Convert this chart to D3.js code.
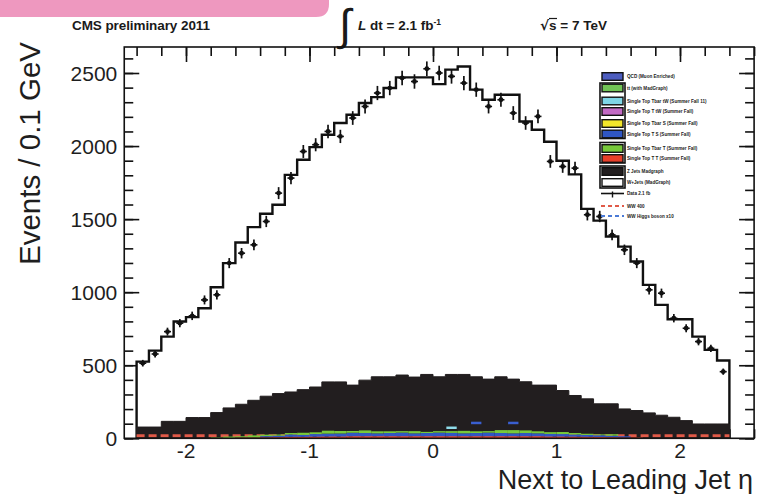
<!DOCTYPE html>
<html><head><meta charset="utf-8">
<script src="https://cdn.jsdelivr.net/npm/d3@7"></script>
<style>
body{margin:0;background:#fff}
svg{display:block}
text{font-family:"Liberation Sans",Arial,Helvetica,sans-serif}
</style>
</head><body>
<svg id="c" width="759" height="494"></svg>
<script>
// ---------- data ----------
const binLow = [-2.4,-2.3,-2.2,-2.1,-2.0,-1.9,-1.8,-1.7,-1.6,-1.5,-1.4,-1.3,-1.2,-1.1,-1.0,-0.9,-0.8,-0.7,-0.6,-0.5,-0.4,-0.3,-0.2,-0.1,
                0.0,0.1,0.2,0.3,0.4,0.5,0.6,0.7,0.8,0.9,1.0,1.1,1.2,1.3,1.4,1.5,1.6,1.7,1.8,1.9,2.0,2.1,2.2,2.3];
const binWidth = 0.1;
// total MC (W+jets on top of stack) - white histogram
const mcTotal = [525,600,696,799,829,890,1034,1199,1340,1445,1537,1598,1803,1906,1993,2077,2158,2214,2295,2335,2397,2470,2470,2470,
                 2424,2523,2545,2386,2317,2351,2351,2168,2112,2030,1900,1806,1570,1490,1381,1312,1210,1050,913,815,815,696,605,532];
// black background component
const bkgBlack = [77,77,116,116,142,142,176,208,233,260,288,306,317,333,351,386,386,364,398,421,421,433,419,437,
                  421,437,437,421,405,421,405,387,364,364,327,293,270,236,236,201,190,174,158,144,121,98,98,98];
// data
const dataVals = [514,577,730,788,838,947,982,1199,1267,1324,1484,1678,1781,1963,2009,2100,2066,2192,2271,2363,2397,2466,2442,2529,
                  2500,2477,2431,2386,2271,2317,2226,2158,2203,1895,1860,1849,1530,1518,1392,1290,1199,1016,993,822,753,662,616,456];
// small coloured components at the bottom of the stack
const stackRed   = [0,0,0,0,0,0,0,0,6,6,7,8,10,10,11,12,12,14,14,14,14,14,14,14,14,14,14,14,14,14,14,14,14,12,12,11,10,9,8,6,6,0,0,0,0,0,0,0];
const stackBlue  = [0,0,0,0,0,0,0,0,0,0,8,10,16,13,18,20,21,24,22,20,22,25,20,22,25,23,20,22,25,22,20,22,20,18,17,15,13,12,10,8,0,0,0,0,0,0,0,0];
const stackGreen = [0,0,0,0,0,0,6,12,8,14,10,8,10,15,12,20,17,12,18,14,12,10,15,8,10,12,17,12,10,20,22,18,14,12,14,10,8,6,10,0,0,0,0,0,0,0,0,0];
// dashed signal-like curves
const sigRed  = [18,18,18,18,18,18,18,18,18,18,18,18,18,18,18,18,18,18,18,18,18,18,18,18,18,18,18,18,18,18,18,18,18,18,18,18,18,18,18,18,18,18,18,18,18,18,18,18];
const sigBlueTop = [null,null,null,null,null,null,null,null,null,null,null,null,null,null,null,null,null,null,null,null,null,null,null,null,
                    null,null,null,105,null,null,105,null,null,null,null,null,null,null,null,null,null,null,null,null,null,null,null,null];
const sigCyanTop = [null,null,null,null,null,null,null,null,null,null,null,null,null,null,null,null,null,null,null,null,null,null,null,null,
                    null,72,null,null,null,null,null,null,null,null,null,null,null,null,null,null,null,null,null,null,null,null,null,null];
const xTicks = [-2,-1,0,1,2];
const yTicks = [0,500,1000,1500,2000,2500];
const legendEntries = [
  {label:"QCD (Muon Enriched)", color:"#4d5dbf", kind:"box"},
  {label:"tt (with MadGraph)", color:"#72c456", kind:"box"},
  {label:"Single Top Tbar tW (Summer Fall 11)", color:"#7fd6e6", kind:"box"},
  {label:"Single Top T tW (Summer Fall)", color:"#c26ac4", kind:"box"},
  {label:"Single Top Tbar S (Summer Fall)", color:"#f2e62a", kind:"box"},
  {label:"Single Top T S (Summer Fall)", color:"#2f56c4", kind:"box"},
  {label:"Single Top Tbar T (Summer Fall)", color:"#77c93a", kind:"box"},
  {label:"Single Top T T (Summer Fall)", color:"#e8402a", kind:"box"},
  {label:"Z Jets Madgraph", color:"#221e1f", kind:"box"},
  {label:"W+Jets (MadGraph)", color:"#ffffff", kind:"box"},
  {label:"Data 2.1 fb", color:"#000", kind:"data"},
  {label:"WW 400", color:"#e05a48", kind:"dash"},
  {label:"WW Higgs boson x10", color:"#4a7ad6", kind:"dash"}
];

// ---------- scales ----------
const svg = d3.select("#c");
const x = d3.scaleLinear().domain([-2.5, 2.6]).range([124.25, 754.1]);
const y = d3.scaleLinear().domain([0, 2678]).range([438.3, 47]);
const X0 = x.range()[0], X1 = x.range()[1], Y0 = y.range()[0], Y1 = y.range()[1];

svg.append("rect").attr("width",759).attr("height",494).attr("fill","#fff");

// pink header band
svg.append("path").attr("d","M0,0H329V4Q329,17 316,17H0Z").attr("fill","#ee98bf");

// header texts
const hdr = svg.append("g").attr("fill","#1a1a1a").attr("font-weight","bold");
hdr.append("text").attr("x",72).attr("y",30).attr("font-size",13.5).attr("textLength",138).text("CMS preliminary 2011");
hdr.append("text").attr("x",339).attr("y",40).attr("font-size",44).attr("font-weight","normal")
   .attr("font-family","DejaVu Sans").text("∫");
const lt = hdr.append("text").attr("x",358).attr("y",30).attr("font-size",13.5);
lt.append("tspan").attr("font-style","italic").text("L");
lt.append("tspan").text(" dt = 2.1 fb");
lt.append("tspan").attr("font-size",8.5).attr("dy",-5).text("-1");
const st = hdr.append("text").attr("x",540).attr("y",30).attr("font-size",13.5);
st.append("tspan").attr("font-family","DejaVu Sans").text("√");
st.append("tspan").text("s = 7 TeV");
svg.append("line").attr("x1",549).attr("x2",557).attr("y1",18.5).attr("y2",18.5).attr("stroke","#1a1a1a").attr("stroke-width",1.2);

// ---------- ticks (drawn first, inward) ----------
const minorY = d3.range(0, 2678, 100);
const minorX = d3.range(-2.4, 2.61, 0.2);
const axG = svg.append("g").attr("class","axes");
function tickAxis(gen, scale, vals, size, tr){
  const a = gen(scale).tickValues(vals).tickSize(size).tickFormat("");
  const g = axG.append("g").attr("transform",tr).call(a);
  g.select(".domain").remove();
  g.selectAll("line").attr("stroke","#111").attr("stroke-width",1.6);
  return g;
}
tickAxis(d3.axisLeft, y, minorY, -9, `translate(${X0},0)`);
tickAxis(d3.axisLeft, y, yTicks, -15, `translate(${X0},0)`);
tickAxis(d3.axisRight, y, minorY, -9, `translate(${X1},0)`);
tickAxis(d3.axisRight, y, yTicks, -15, `translate(${X1},0)`);
tickAxis(d3.axisTop, x, minorX, -9, `translate(0,${Y1})`);
tickAxis(d3.axisTop, x, xTicks, -15, `translate(0,${Y1})`);
tickAxis(d3.axisBottom, x, minorX, -9, `translate(0,${Y0})`);
tickAxis(d3.axisBottom, x, xTicks, -15, `translate(0,${Y0})`);

// ---------- histograms ----------
function stepPath(vals){
  let p = `M${x(binLow[0])},${y(0)}`;
  vals.forEach((v,i)=>{ p += `L${x(binLow[i])},${y(v)}L${x(binLow[i]+binWidth)},${y(v)}`; });
  p += `L${x(binLow[binLow.length-1]+binWidth)},${y(0)}`;
  return p;
}
const plot = svg.append("g");
plot.append("path").attr("d",stepPath(mcTotal)).attr("fill","#fff").attr("stroke","#111").attr("stroke-width",2.4).attr("stroke-linejoin","miter");
plot.append("path").attr("d",stepPath(bkgBlack)).attr("fill","#221e1f").attr("stroke","#221e1f").attr("stroke-width",1);

// dashed red curve (underneath the coloured stack)
const redLine = d3.line().curve(d3.curveStepAfter).x(d=>x(d[0])).y(d=>y(d[1]));
const redPts = sigRed.map((v,i)=>[binLow[i],v]); redPts.push([binLow[binLow.length-1]+binWidth, sigRed[sigRed.length-1]]);
plot.append("path").attr("d",redLine(redPts)).attr("fill","none").attr("stroke","#e05a48").attr("stroke-width",3).attr("stroke-dasharray","8,4");

// stacked coloured components
const stackSeries = [
  {vals:stackRed, color:"#e8402a"},
  {vals:stackBlue, color:"#2f56c4"},
  {vals:stackGreen, color:"#77c93a"}
];
const cum = binLow.map(()=>0);
stackSeries.forEach(s=>{
  plot.append("g").selectAll("rect").data(s.vals.map((v,i)=>({v,i,base:cum[i]}))).join("rect")
    .attr("x",d=>x(binLow[d.i])).attr("width",d=>x(binLow[d.i]+binWidth)-x(binLow[d.i]))
    .attr("y",d=>y(d.base+d.v)).attr("height",d=>y(d.base)-y(d.base+d.v))
    .attr("fill",s.color);
  s.vals.forEach((v,i)=>cum[i]+=v);
});
// isolated visible tops of other components
function tops(arr,color){
  plot.append("g").selectAll("line").data(arr.map((v,i)=>({v,i})).filter(d=>d.v!==null)).join("line")
    .attr("x1",d=>x(binLow[d.i])+1).attr("x2",d=>x(binLow[d.i]+binWidth)-1)
    .attr("y1",d=>y(d.v)).attr("y2",d=>y(d.v)).attr("stroke",color).attr("stroke-width",2.5);
}
tops(sigBlueTop,"#3a5fd0");
tops(sigCyanTop,"#8fdcea");

// data points
const dp = plot.append("g").attr("stroke","#111").attr("fill","#111");
dataVals.forEach((v,i)=>{
  const cx = x(binLow[i]+binWidth/2), e = Math.sqrt(v);
  dp.append("line").attr("x1",cx).attr("x2",cx).attr("y1",y(v-e)).attr("y2",y(v+e)).attr("stroke-width",1.7);
  dp.append("line").attr("x1",cx-3.5).attr("x2",cx+3.5).attr("y1",y(v)).attr("y2",y(v)).attr("stroke-width",1.6);
  dp.append("circle").attr("cx",cx).attr("cy",y(v)).attr("r",2.4).attr("stroke","none");
});

// frame
svg.append("rect").attr("x",X0).attr("y",Y1).attr("width",X1-X0).attr("height",Y0-Y1)
  .attr("fill","none").attr("stroke","#111").attr("stroke-width",1.6);

// ---------- labels ----------
const lab = svg.append("g").attr("fill","#1e1e1e");
lab.selectAll("text.yl").data(yTicks).join("text").attr("class","yl")
  .attr("x",X0-7).attr("y",d=>y(d)).attr("dy","0.36em").attr("text-anchor","end").attr("font-size",21).text(d=>d);
lab.selectAll("text.xl").data(xTicks).join("text").attr("class","xl")
  .attr("x",d=>x(d)).attr("y",Y0+20).attr("text-anchor","middle").attr("font-size",21).text(d=>String(d));
lab.append("text").attr("transform","translate(40,42) rotate(-90)").attr("text-anchor","end").attr("font-size",29.5).text("Events / 0.1 GeV");
lab.append("text").attr("x",753).attr("y",489).attr("text-anchor","end").attr("font-size",27).text("Next to Leading Jet η");

// ---------- legend ----------
const lg = svg.append("g");
const rowY = [76.5,88,101,111.5,123.5,134,148.5,158.5,171.5,182.5,193.5,206,216];
legendEntries.forEach((e,i)=>{
  const yy = rowY[i];
  if(e.kind==="box"){
    lg.append("rect").attr("x",602).attr("y",yy-3.8).attr("width",21).attr("height",7.6)
      .attr("fill",e.color).attr("stroke","#111").attr("stroke-width",1.4);
  } else if(e.kind==="data"){
    lg.append("line").attr("x1",601).attr("x2",624).attr("y1",yy).attr("y2",yy).attr("stroke","#111").attr("stroke-width",1.6);
    lg.append("line").attr("x1",612.5).attr("x2",612.5).attr("y1",yy-2).attr("y2",yy+4).attr("stroke","#111").attr("stroke-width",1.4);
  } else {
    lg.append("line").attr("x1",601).attr("x2",624).attr("y1",yy).attr("y2",yy).attr("stroke",e.color).attr("stroke-width",1.8).attr("stroke-dasharray","4,3");
  }
  lg.append("text").attr("x",627).attr("y",yy).attr("dy","0.35em").attr("font-size",4.6).attr("font-weight","bold").attr("fill","#222").text(e.label);
});
// grouping frames
[[83,138.5],[142.5,163],[166,188]].forEach(([a,b])=>{
  lg.append("rect").attr("x",600).attr("y",a).attr("width",25).attr("height",b-a).attr("fill","none").attr("stroke","#111").attr("stroke-width",1.6);
});
</script>
</body></html>
